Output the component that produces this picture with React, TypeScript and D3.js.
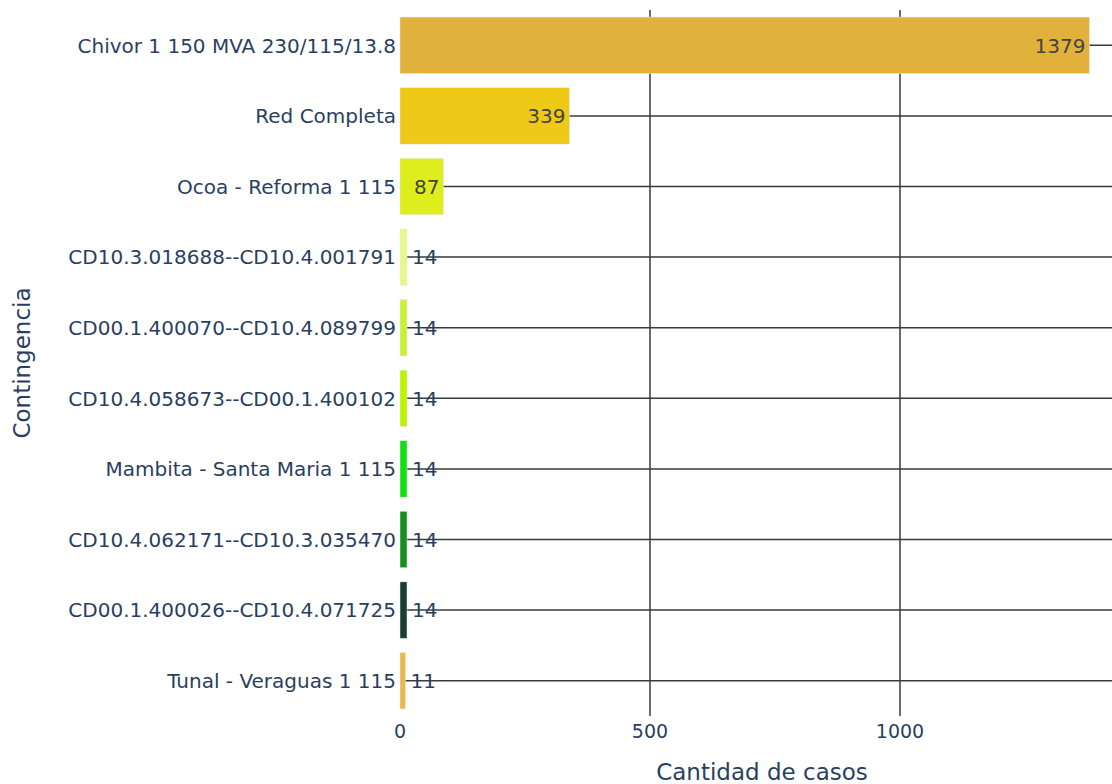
import React, { useEffect, useRef } from 'react';
import * as d3 from 'd3';

const categories = [
  'Chivor 1 150 MVA 230/115/13.8',
  'Red Completa',
  'Ocoa - Reforma 1 115',
  'CD10.3.018688--CD10.4.001791',
  'CD00.1.400070--CD10.4.089799',
  'CD10.4.058673--CD00.1.400102',
  'Mambita - Santa Maria 1 115',
  'CD10.4.062171--CD10.3.035470',
  'CD00.1.400026--CD10.4.071725',
  'Tunal - Veraguas 1 115',
];
const casos = [1379, 339, 87, 14, 14, 14, 14, 14, 14, 11];
const barColors = [
  '#e2b13c', '#eec918', '#ddee1c', '#e4f98a', '#ccf03a',
  '#bcf400', '#12e012', '#15901a', '#173f2e', '#eab84c',
];
const xTicks = [0, 500, 1000];

const W = 1112;
const H = 784;
const margin = { top: 10, right: 1124, bottom: 716, left: 400 };
const FONT = '"DejaVu Sans", Verdana, sans-serif';
const TXT = '#2a3f5f';

export default function App() {
  const svgRef = useRef<SVGSVGElement>(null);

  useEffect(() => {
    const svg = d3.select(svgRef.current);
    svg.selectAll('*').remove();

    const x = d3.scaleLinear().domain([0, 1448]).range([margin.left, margin.right]);
    const y = d3.scaleBand<string>()
      .domain(categories)
      .range([margin.top, margin.bottom])
      .paddingInner(0.2)
      .paddingOuter(0.1);

    // grid
    svg.append('g')
      .selectAll('line')
      .data(xTicks.filter(t => t > 0))
      .join('line')
      .attr('x1', d => x(d)).attr('x2', d => x(d))
      .attr('y1', margin.top).attr('y2', margin.bottom)
      .attr('stroke', '#3a3a3a').attr('stroke-width', 1.5);

    svg.append('g')
      .selectAll('line')
      .data(categories)
      .join('line')
      .attr('x1', margin.left).attr('x2', margin.right)
      .attr('y1', d => y(d)! + y.bandwidth() / 2)
      .attr('y2', d => y(d)! + y.bandwidth() / 2)
      .attr('stroke', '#3a3a3a').attr('stroke-width', 1.5);

    // bars
    svg.append('g')
      .selectAll('rect')
      .data(casos)
      .join('rect')
      .attr('x', x(0))
      .attr('y', (d, i) => y(categories[i])!)
      .attr('width', d => x(d) - x(0))
      .attr('height', y.bandwidth())
      .attr('fill', (d, i) => barColors[i])
      .attr('stroke', '#e5ecf6')
      .attr('stroke-width', 0.5);

    // value labels
    svg.append('g')
      .selectAll('text')
      .data(casos)
      .join('text')
      .attr('x', d => (d > 50 ? x(d) - 4 : x(d) + 5))
      .attr('y', (d, i) => y(categories[i])! + y.bandwidth() / 2)
      .attr('dy', '0.36em')
      .attr('text-anchor', d => (d > 50 ? 'end' : 'start'))
      .attr('fill', d => (d > 50 ? '#444' : TXT))
      .style('font-family', FONT)
      .style('font-size', '20px')
      .text(d => d);

    // y tick labels
    svg.append('g')
      .selectAll('text')
      .data(categories)
      .join('text')
      .attr('x', margin.left - 4)
      .attr('y', d => y(d)! + y.bandwidth() / 2)
      .attr('dy', '0.36em')
      .attr('text-anchor', 'end')
      .attr('fill', TXT)
      .style('font-family', FONT)
      .style('font-size', '20px')
      .text(d => d);

    // x tick labels
    svg.append('g')
      .selectAll('text')
      .data(xTicks)
      .join('text')
      .attr('x', d => x(d))
      .attr('y', 738)
      .attr('text-anchor', 'middle')
      .attr('fill', TXT)
      .style('font-family', FONT)
      .style('font-size', '19px')
      .text(d => d);

    // axis titles
    svg.append('text')
      .attr('x', (margin.left + margin.right) / 2)
      .attr('y', 780)
      .attr('text-anchor', 'middle')
      .attr('fill', TXT)
      .style('font-family', FONT)
      .style('font-size', '23px')
      .text('Cantidad de casos');

    svg.append('text')
      .attr('transform', `translate(30,${(margin.top + margin.bottom) / 2}) rotate(-90)`)
      .attr('text-anchor', 'middle')
      .attr('fill', TXT)
      .style('font-family', FONT)
      .style('font-size', '23px')
      .text('Contingencia');
  }, []);

  return (
    <svg
      ref={svgRef}
      width={W}
      height={H}
      style={{ position: 'absolute', left: 0, top: 0, background: '#fff' }}
    />
  );
}
